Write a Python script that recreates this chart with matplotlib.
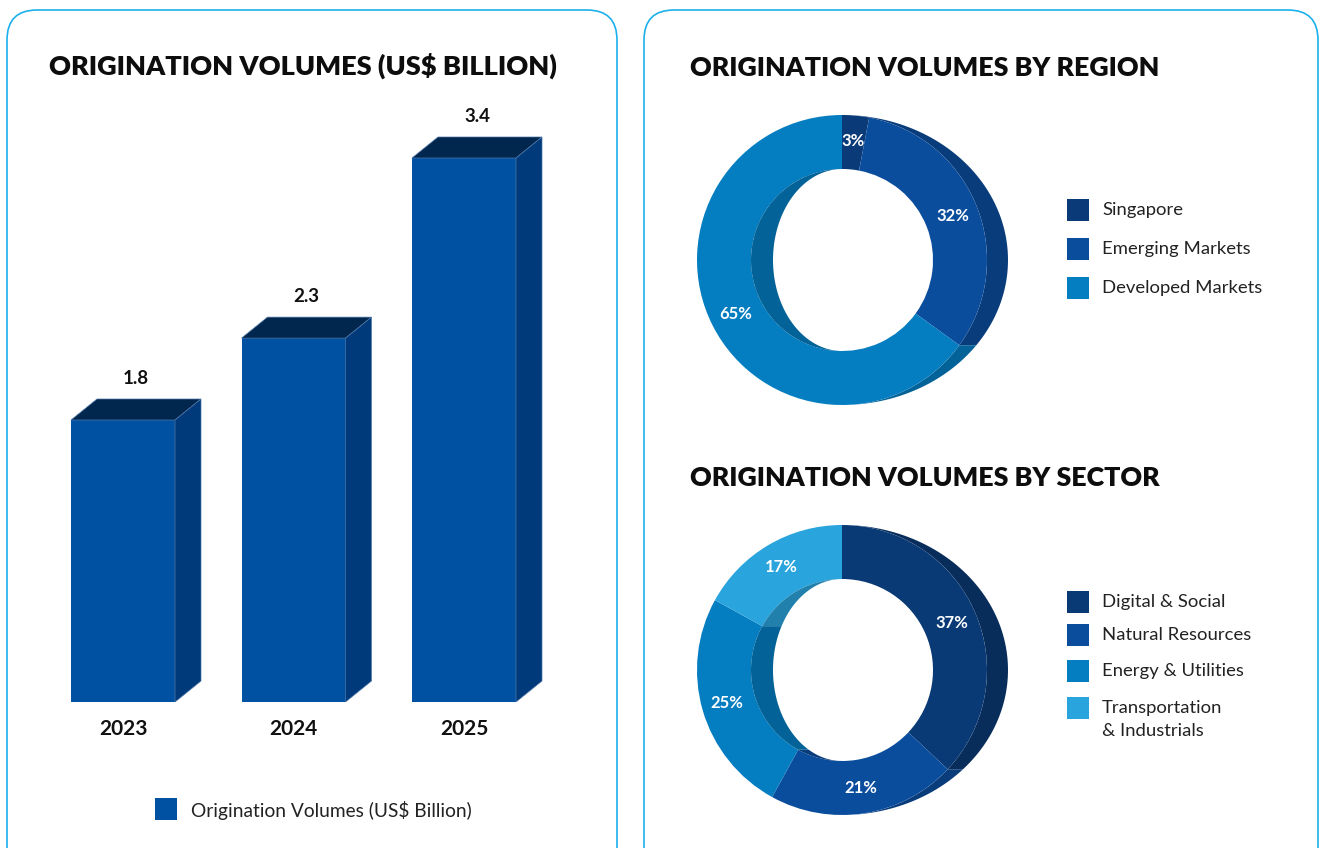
import numpy as np
import matplotlib
matplotlib.use("Agg")
import matplotlib.pyplot as plt
from matplotlib.patches import FancyBboxPatch, Polygon, Rectangle
from matplotlib.colors import to_rgb

# ---------------- data ----------------
years = ["2023", "2024", "2025"]
volumes = [1.8, 2.3, 3.4]
volume_label = "Origination Volumes (US$ Billion)"

regions = ["Singapore", "Emerging Markets", "Developed Markets"]
region_share = [3, 32, 65]
region_colors = ["#0a3b78", "#0b4d9d", "#047dc1"]

sectors = ["Digital & Social", "Natural Resources", "Energy & Utilities",
           "Transportation\n& Industrials"]
sector_share = [37, 21, 25, 17]
sector_colors = ["#0a3a75", "#0b4d9d", "#047dc1", "#2aa4dd"]

# ---------------- styling ----------------
W, H = 1322, 848
BODY = ["Lato", "DejaVu Sans"]
plt.rcParams["font.family"] = BODY
FRONT, SIDE, TOP = "#0051a1", "#003a7a", "#02274f"
BORDER = "#1cb0ec"

fig = plt.figure(figsize=(W / 100, H / 100), dpi=100)
fig.patch.set_facecolor("white")

# full-figure canvas in pixel units for panels, titles and legends
bg = fig.add_axes([0, 0, 1, 1], zorder=0)
bg.set_xlim(0, W)
bg.set_ylim(H, 0)
bg.axis("off")

for x0, x1 in [(7, 617), (644, 1318)]:
    bg.add_patch(FancyBboxPatch((x0 + 30, 10 + 30), (x1 - x0) - 60, 880 - 60,
                                boxstyle="round,pad=30", fc="white",
                                ec=BORDER, lw=1.2))


def fig_axes(cx, cy, half_w, half_h, **kw):
    return fig.add_axes([(cx - half_w) / W, (H - cy - half_h) / H,
                         2 * half_w / W, 2 * half_h / H], **kw)


def fitted_title(x, y, text, width_px):
    t = bg.text(x, y, text, fontsize=20, fontweight="heavy", color="#0d0d0d",
                ha="left", va="baseline", family=BODY)
    fig.canvas.draw()
    w = t.get_window_extent(fig.canvas.get_renderer()).width
    t.set_fontsize(20 * width_px / w)
    return t


fitted_title(49, 75, "ORIGINATION VOLUMES (US$ BILLION)", 509)
fitted_title(690, 76, "ORIGINATION VOLUMES BY REGION", 471)
fitted_title(690, 486, "ORIGINATION VOLUMES BY SECTOR", 471)

# ---------------- 3D bar chart ----------------
px_per_x = 170.5
px_per_y = 163.75
ax_left, ax_right = 123 - 0.5 * px_per_x, 123 + 2.5 * px_per_x
y_base_px, y_top_px = 702, 100
ylo = (714.75 - y_base_px) / px_per_y
yhi = (714.75 - y_top_px) / px_per_y
bax = fig.add_axes([ax_left / W, (H - y_base_px) / H,
                    (ax_right - ax_left) / W, (y_base_px - y_top_px) / H],
                   zorder=2)
bax.set_xlim(-0.5, 2.5)
bax.set_ylim(ylo, yhi)
bax.axis("off")

xs = np.arange(len(years))
bw = 104 / px_per_x
ddx = 26 / px_per_x
ddy = 21 / px_per_y
bax.bar(xs, volumes, width=bw, color=FRONT, zorder=3)
for x, v in zip(xs, volumes):
    l, r = x - bw / 2, x + bw / 2
    bax.add_patch(Polygon([(l, v), (r, v), (r + ddx, v + ddy), (l + ddx, v + ddy)],
                          closed=True, fc=TOP, ec="#4f77a8", lw=0.5, zorder=4))
    bax.add_patch(Polygon([(r, ylo), (r, v), (r + ddx, v + ddy), (r + ddx, ylo + ddy)],
                          closed=True, fc=SIDE, ec="#4f77a8", lw=0.5, zorder=4))
    bax.text(x + ddx / 2, v + ddy + 21 / px_per_y, f"{v:.1f}",
             ha="center", va="center", fontsize=13.5, fontweight="bold",
             color="#111111", clip_on=False)
    bax.text(x, ylo - 27 / px_per_y, years[int(x)], ha="center", va="center",
             fontsize=15, fontweight="bold", color="#111111", clip_on=False)

bg.add_patch(Rectangle((155, 798), 22, 22, fc=FRONT, ec="none"))
bg.text(191, 810, volume_label, fontsize=13.8, color="#222222",
        ha="left", va="center")


# ---------------- donuts ----------------
R_IN = 91 / 145
RIM_RX = 166 / 145
HOLE_RX = 69 / 145


def shade(c, f=0.78):
    return tuple(np.array(to_rgb(c)) * f)


def clip_range(a1, a2, lo, hi):
    s, e = max(min(a1, a2), lo), min(max(a1, a2), hi)
    return (s, e) if e > s else None


def donut(cx, cy, shares, colors):
    ax = fig_axes(cx, cy, 170, 170, zorder=2)
    wedges, _, autotexts = ax.pie(
        shares, colors=colors, startangle=90, counterclock=False, radius=1,
        wedgeprops=dict(width=1 - R_IN, linewidth=0),
        autopct=lambda p: f"{p:.0f}%", pctdistance=(1 + R_IN) / 2 + 0.01)
    for t in autotexts:
        t.set_color("white")
        t.set_fontsize(12)
        t.set_fontweight("bold")
    # angular extents of slices (degrees, clockwise from 12 o'clock)
    edges = 90 - 360 * np.concatenate([[0], np.cumsum(shares)]) / sum(shares)
    for a_start, a_end, c in zip(edges[:-1], edges[1:], colors):
        # outer wall visible on the right half
        for off in (0, -360):
            rng = clip_range(a_start + off, a_end + off, -90, 90)
            if rng:
                t = np.radians(np.linspace(rng[0], rng[1], 80))
                pts = np.r_[np.c_[np.cos(t), np.sin(t)],
                            np.c_[RIM_RX * np.cos(t), np.sin(t)][::-1]]
                ax.add_patch(Polygon(pts, closed=True, fc=shade(c), ec="none",
                                     zorder=0))
        # inner wall visible through the hole on the left half
        for off in (0, 360):
            rng = clip_range(a_start + off, a_end + off, 90, 270)
            if rng:
                t = np.radians(np.linspace(rng[0], rng[1], 80))
                pts = np.r_[np.c_[R_IN * np.cos(t), R_IN * np.sin(t)],
                            np.c_[HOLE_RX * np.cos(t), R_IN * np.sin(t)][::-1]]
                ax.add_patch(Polygon(pts, closed=True, fc=shade(c), ec="none",
                                     zorder=3))
    lim = 170 / 145
    ax.set_xlim(-lim, lim)
    ax.set_ylim(-lim, lim)
    ax.axis("off")
    return ax


donut(842, 260, region_share, region_colors)
donut(842, 670, sector_share, sector_colors)


def side_legend(labels, colors, ys):
    for lab, c, y in zip(labels, colors, ys):
        bg.add_patch(Rectangle((1067, y - 11), 22, 22, fc=c, ec="none"))
        first, *rest = lab.split("\n")
        bg.text(1102, y, first, fontsize=13.3, color="#222222",
                ha="left", va="center")
        for k, line in enumerate(rest, 1):
            bg.text(1102, y + 23 * k, line, fontsize=13.3, color="#222222",
                    ha="left", va="center")


side_legend(regions, region_colors, [210, 249, 288])
side_legend(sectors, sector_colors, [602, 635, 671, 708])

fig.savefig("out.png", dpi=100, facecolor="white")
